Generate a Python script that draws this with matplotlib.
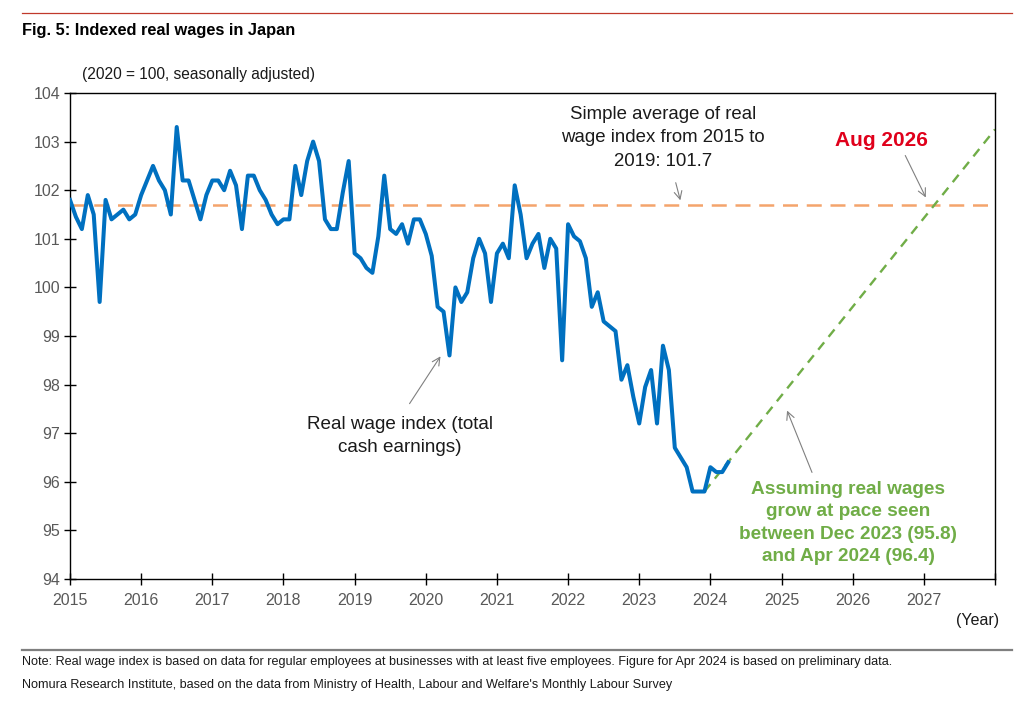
import matplotlib
matplotlib.use("Agg")
import matplotlib.pyplot as plt
from matplotlib.lines import Line2D
import numpy as np

# ---------------- data ----------------
start_year = 2015
wage_index = [
    # 2015
    101.8, 101.45, 101.2, 101.9, 101.5, 99.7, 101.8, 101.4, 101.5, 101.6, 101.4, 101.5,
    # 2016
    101.9, 102.2, 102.5, 102.2, 102.0, 101.5, 103.3, 102.2, 102.2, 101.8, 101.4, 101.9,
    # 2017
    102.2, 102.2, 102.0, 102.4, 102.1, 101.2, 102.3, 102.3, 102.0, 101.8, 101.5, 101.3,
    # 2018
    101.4, 101.4, 102.5, 101.9, 102.6, 103.0, 102.6, 101.4, 101.2, 101.2, 101.95, 102.6,
    # 2019
    100.7, 100.6, 100.4, 100.3, 101.05, 102.3, 101.2, 101.1, 101.3, 100.9, 101.4, 101.4,
    # 2020
    101.1, 100.65, 99.6, 99.5, 98.6, 100.0, 99.7, 99.9, 100.6, 101.0, 100.7, 99.7,
    # 2021
    100.7, 100.9, 100.6, 102.1, 101.5, 100.6, 100.9, 101.1, 100.4, 101.0, 100.8, 98.5,
    # 2022
    101.3, 101.05, 100.95, 100.6, 99.6, 99.9, 99.3, 99.2, 99.1, 98.1, 98.4, 97.75,
    # 2023
    97.2, 97.95, 98.3, 97.2, 98.8, 98.3, 96.7, 96.5, 96.3, 95.8, 95.8, 95.8,
    # 2024
    96.3, 96.2, 96.2, 96.4,
]
avg_2015_2019 = 101.7
proj_x = [2023 + 11 / 12, 2028.0]
proj_y = [95.8, 103.25]
year_ticks = list(range(2015, 2029))
year_labels = [str(y) for y in range(2015, 2028)] + [""]
y_ticks = list(range(94, 105))

months_x = [start_year + i / 12 for i in range(len(wage_index))]

# ---------------- style ----------------
plt.rcParams['font.family'] = ['Liberation Sans', 'DejaVu Sans']
W, H = 1024, 703
fig = plt.figure(figsize=(W / 100, H / 100), dpi=100)

def fx(px):
    return px / W

def fy(py):
    return 1 - py / H

ax = fig.add_axes([fx(70), fy(579), fx(995) - fx(70), fy(93) - fy(579)])

ax.plot(months_x, wage_index, color='#0070c0', lw=2.9, solid_joinstyle='round', zorder=3)
ax.axhline(avg_2015_2019, color='#f4a46c', lw=1.8, dashes=(6, 3.5), zorder=2)
ax.plot(proj_x, proj_y, color='#70ad47', lw=1.7, dashes=(4, 3), zorder=2)

ax.set_xlim(2015, 2028)
ax.set_ylim(94, 104)
ax.set_xticks(year_ticks)
ax.set_xticklabels(year_labels)
ax.set_yticks(y_ticks)
ax.tick_params(direction='inout', length=8, width=1, colors='black', labelcolor='#595959',
               labelsize=11.5)
ax.tick_params(axis='x', pad=6)
ax.tick_params(axis='y', pad=3)
for s in ax.spines.values():
    s.set_color('black')
    s.set_linewidth(1)

def dx(px):
    return 2015 + (px - 70) / 71.15

def dy(py):
    return 94 + (579 - py) / 48.6

arrow = dict(arrowstyle='->', color='#808080', lw=0.8, mutation_scale=14)

ax.text(dx(663), dy(138), "Simple average of real\nwage index from 2015 to\n2019: 101.7",
        ha='center', va='center', fontsize=13.4, linespacing=1.5, color='#1a1a1a')
ax.annotate("", xy=(dx(681), dy(203)), xytext=(dx(675), dy(180)), arrowprops=arrow)

ax.text(dx(881), dy(140), "Aug 2026", ha='center', va='center', fontsize=15,
        fontweight='bold', color='#e0001b')
ax.annotate("", xy=(dx(927), dy(200)), xytext=(dx(904), dy(153)), arrowprops=arrow)

ax.text(dx(848), dy(523), "Assuming real wages\ngrow at pace seen\nbetween Dec 2023 (95.8)\nand Apr 2024 (96.4)",
        ha='center', va='center', fontsize=13.7, fontweight='bold', linespacing=1.42,
        color='#70ad47')
ax.annotate("", xy=(dx(786), dy(408)), xytext=(dx(813), dy(475)), arrowprops=arrow)

ax.text(dx(400), dy(436), "Real wage index (total\ncash earnings)", ha='center', va='center',
        fontsize=13.6, linespacing=1.45, color='#1a1a1a')
ax.annotate("", xy=(dx(442), dy(354)), xytext=(dx(408), dy(406)), arrowprops=arrow)

# figure-level texts and rules
fig.add_artist(Line2D([fx(22), fx(1012)], [fy(13), fy(13)], color='#c0392b', lw=0.9))
fig.text(fx(22), fy(30), "Fig. 5: Indexed real wages in Japan", fontsize=11.8,
         fontweight='bold', va='center', ha='left', color='black')
fig.text(fx(82), fy(75), "(2020 = 100, seasonally adjusted)", fontsize=11.2,
         va='center', ha='left', color='#1a1a1a')
fig.text(fx(978), fy(620), "(Year)", fontsize=11.5, va='center', ha='center',
         color='#1a1a1a')
fig.add_artist(Line2D([fx(22), fx(1012)], [fy(650), fy(650)], color='#7f7f7f', lw=1.6))
fig.text(fx(22), fy(662), "Note: Real wage index is based on data for regular employees at businesses with at least five employees. Figure for Apr 2024 is based on preliminary data.",
         fontsize=9.1, va='center', ha='left', color='#1a1a1a')
fig.text(fx(22), fy(685), "Nomura Research Institute, based on the data from Ministry of Health, Labour and Welfare's Monthly Labour Survey",
         fontsize=9.1, va='center', ha='left', color='#1a1a1a')

fig.savefig("out.png", dpi=100, facecolor='white')
